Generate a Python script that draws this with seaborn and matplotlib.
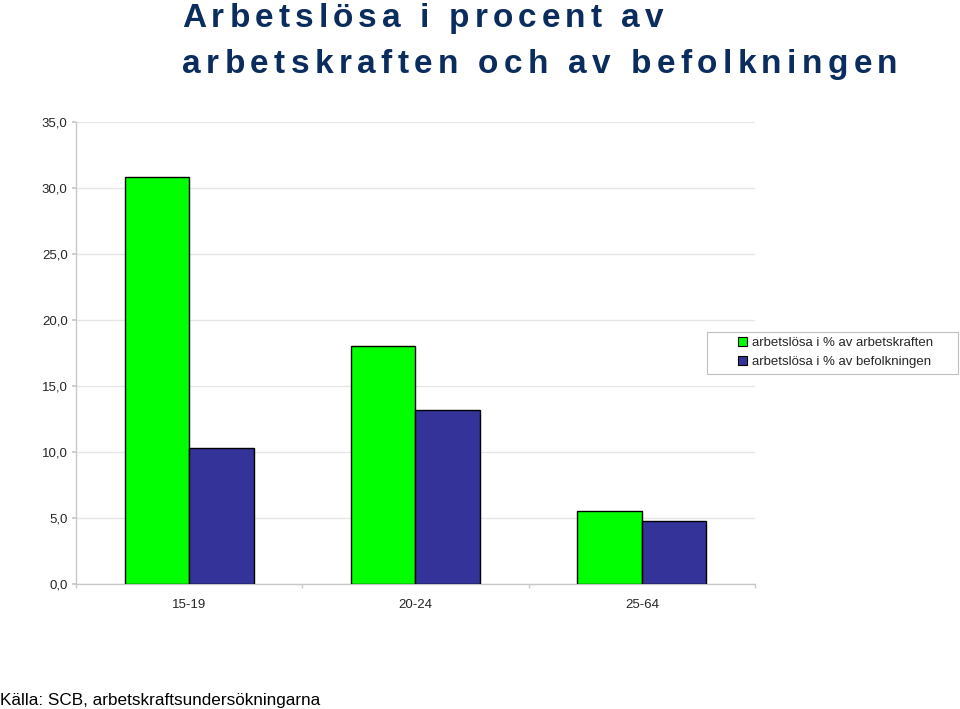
import matplotlib
matplotlib.use("Agg")
import matplotlib.pyplot as plt
import seaborn as sns
import pandas as pd
from matplotlib.ticker import FixedLocator, NullFormatter
from matplotlib.patches import Rectangle

categories = ["15-19", "20-24", "25-64"]
series_names = ["arbetslösa i % av arbetskraften", "arbetslösa i % av befolkningen"]
arbetskraften = [30.8, 18.0, 5.5]
befolkningen = [10.3, 13.2, 4.8]
yticks = [0, 5, 10, 15, 20, 25, 30, 35]
title_lines = ["Arbetslösa i procent av", "arbetskraften och av befolkningen"]
source = "Källa: SCB, arbetskraftsundersökningarna"

df = pd.DataFrame({
    "grupp": categories * 2,
    "serie": [series_names[0]] * 3 + [series_names[1]] * 3,
    "varde": arbetskraften + befolkningen,
})

sns.set_theme(style="white")
plt.rcParams["font.family"] = ["Liberation Sans", "DejaVu Sans"]

W, H = 960, 709
fig = plt.figure(figsize=(9.6, 7.09), dpi=100)
ax = fig.add_axes([76/W, 1-584/H, (755-76)/W, (584-122)/H])

palette = {series_names[0]: "#00ff00", series_names[1]: "#333399"}
sns.barplot(data=df, x="grupp", y="varde", hue="serie", palette=palette,
            width=0.57, gap=0, edgecolor="black", linewidth=1, ax=ax,
            saturation=1, zorder=3)

ax.set_ylim(0, 35)
ax.set_xlim(-0.5, 2.5)
ax.yaxis.set_major_locator(FixedLocator(yticks))
ax.set_yticklabels([f"{v:.1f}".replace(".", ",") for v in yticks], fontsize=9.5)
ax.grid(axis="y", color="#e6e6e6", linewidth=1, zorder=0)
ax.set_axisbelow(True)
for s in ["top", "right"]:
    ax.spines[s].set_visible(False)
for s in ["left", "bottom"]:
    ax.spines[s].set_color("#c8c8c8")
    ax.spines[s].set_linewidth(1)
ax.tick_params(axis="y", left=True, length=3, color="#c8c8c8", pad=3)
ax.tick_params(axis="x", which="major", bottom=False, length=0, labelsize=9.5, pad=11)
ax.xaxis.set_minor_locator(FixedLocator([-0.5, 0.5, 1.5, 2.5]))
ax.xaxis.set_minor_formatter(NullFormatter())
ax.tick_params(axis="x", which="minor", bottom=True, length=3, color="#c8c8c8")
ax.set_xlabel("")
ax.set_ylabel("")

# legend: frameless entries plus a separate rectangle frame
leg = ax.legend(loc="upper left", bbox_to_anchor=(734/W, 1-333/H),
                bbox_transform=fig.transFigure, fontsize=9.5, frameon=False,
                handlelength=0.7, handleheight=0.7, handletextpad=0.35,
                borderpad=0.3, labelspacing=0.5, borderaxespad=0)
for h in leg.legend_handles:
    h.set_edgecolor("black")
    h.set_linewidth(0.8)
fig.patches.append(Rectangle((707/W, 1-374/H), (958-707)/W, (374-332)/H,
                             transform=fig.transFigure, fill=False,
                             edgecolor="#c0c0c0", linewidth=0.8))

# letter-spaced title
title_color = "#0b2d5e"
renderer = fig.canvas.get_renderer()

def spaced_text(x_px, baseline_px, s, extra_px, **kw):
    probe = fig.text(0, 0, "", **kw)
    for i, ch in enumerate(s):
        probe.set_text(s[:i] if i > 0 else "")
        w = probe.get_window_extent(renderer).width if i > 0 else 0.0
        fig.text((x_px + w + i*extra_px)/W, 1-baseline_px/H, ch,
                 va="baseline", ha="left", **kw)
    probe.remove()

spaced_text(182, 27, title_lines[0], 5.1, fontsize=24, fontweight="bold", color=title_color)
spaced_text(182, 73, title_lines[1], 5.35, fontsize=24, fontweight="bold", color=title_color)

fig.text(0/W, 1-705/H, source, fontsize=12.3, color="black", va="baseline", ha="left")

fig.savefig("out.png", dpi=100)
